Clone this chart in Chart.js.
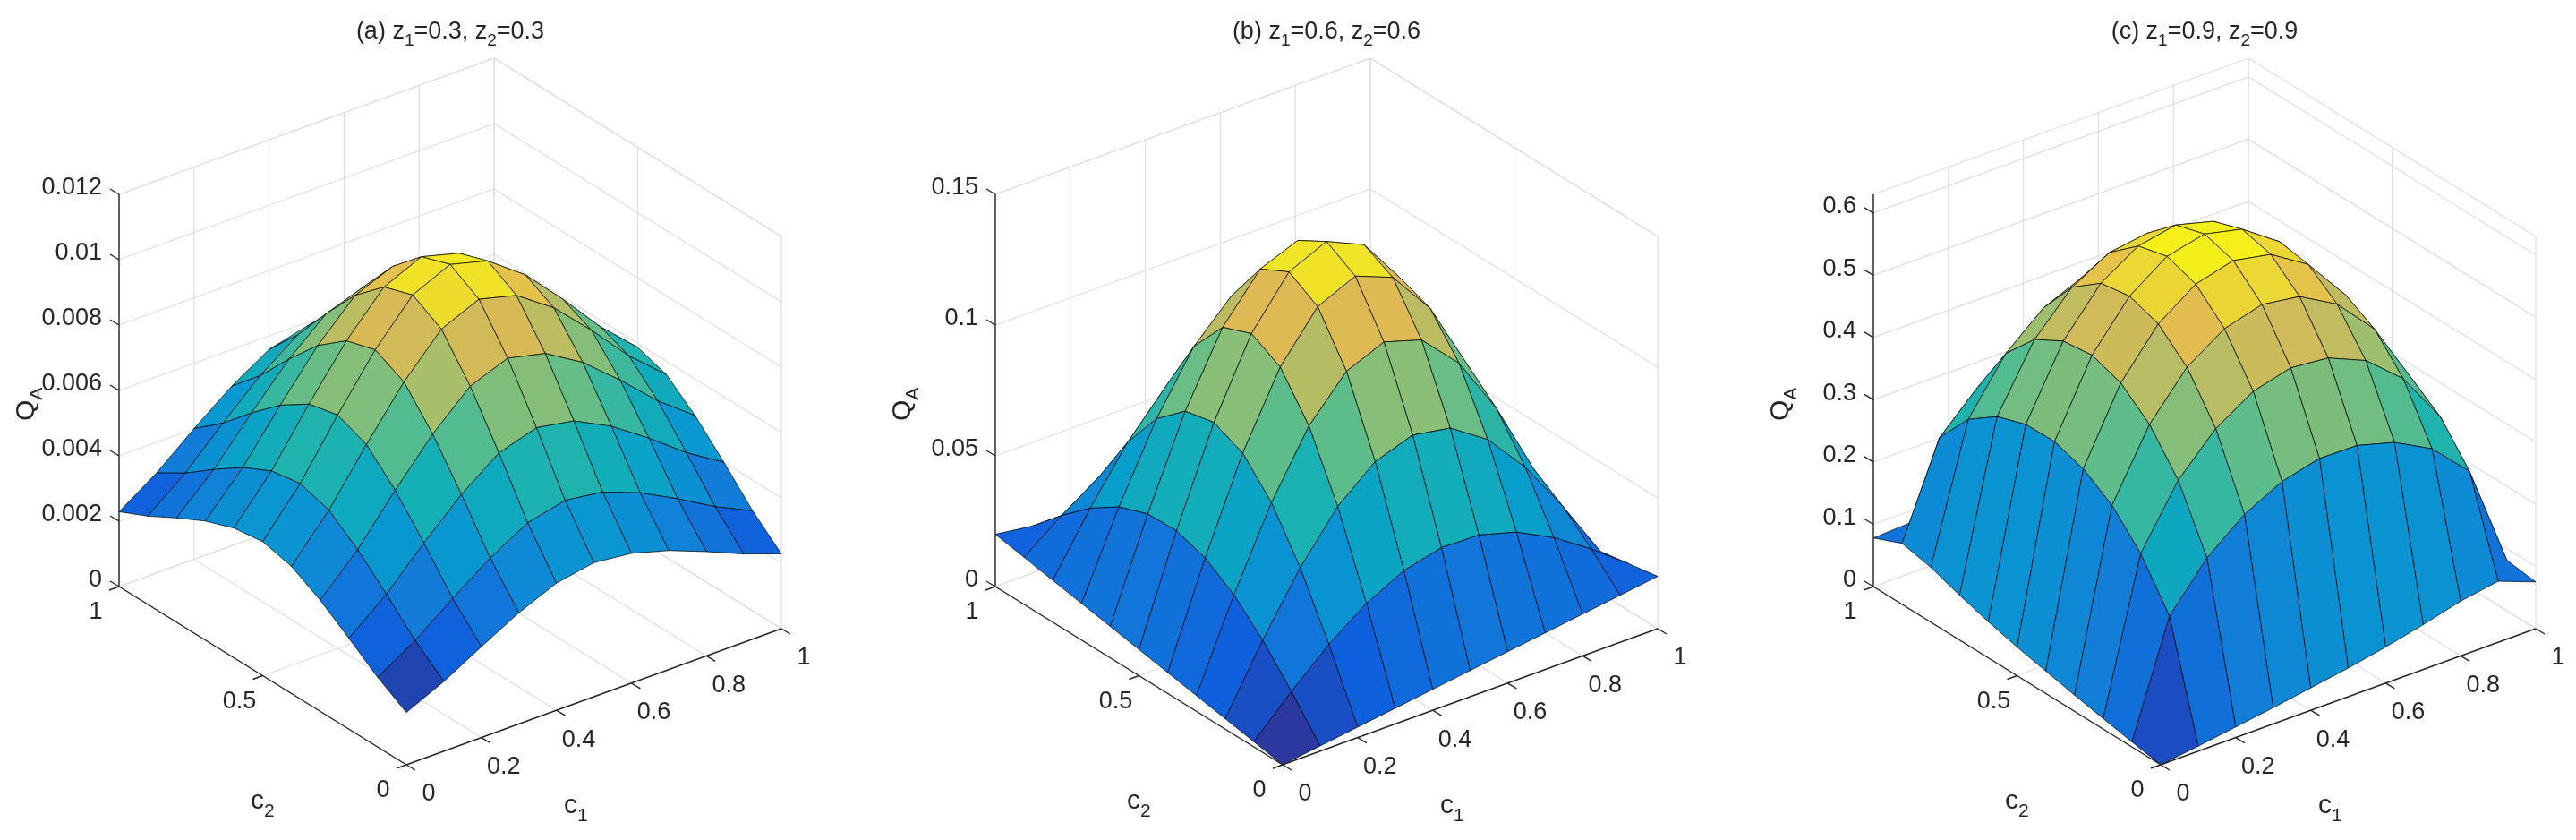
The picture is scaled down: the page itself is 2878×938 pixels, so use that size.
<!DOCTYPE html>
<html><head><meta charset="utf-8">
<script src="https://cdn.jsdelivr.net/npm/chart.js@4/dist/chart.umd.min.js"></script>
<style>html,body{margin:0;padding:0;background:#fff;overflow:hidden}canvas{display:block}</style>
</head><body>
<canvas id="c" width="2878" height="938"></canvas>
<script>
// grid coordinates (c1 columns, c2 rows)
const gridC = [0,0.1,0.2,0.3,0.4,0.5,0.6,0.7,0.8,0.9,1];
const c1Ticks = [0,0.2,0.4,0.6,0.8,1];
const c2Ticks = [0,0.5,1];
const c1TickLabels = ["0","0.2","0.4","0.6","0.8","1"];
const c2TickLabels = ["0","0.5","1"];

// Panel (a) Q_A values, unit 1e-4, rows = c2, cols = c1
const unitA = 1e-4;
const qA = [
 [16.0,21.3,27.8,34.0,38.9,41.0,39.7,36.4,31.9,27.0,22.9],
 [21.3,28.4,37.1,45.3,51.9,54.6,53.0,48.6,42.6,36.0,30.6],
 [27.8,37.1,48.6,59.3,67.8,71.4,69.3,63.5,55.7,47.1,40.0],
 [34.0,45.3,59.3,72.3,82.8,87.2,84.5,77.6,68.0,57.5,48.8],
 [38.9,51.9,67.8,82.8,94.8,99.8,96.8,88.8,77.8,65.8,55.9],
 [41.0,54.6,71.4,87.2,99.8,105,101.9,93.5,81.9,69.3,58.8],
 [39.7,53.0,69.3,84.5,96.8,101.9,98.8,90.6,79.4,67.2,57.0],
 [36.4,48.6,63.5,77.6,88.8,93.5,90.6,83.2,72.9,61.7,52.3],
 [31.9,42.6,55.7,68.0,77.8,81.9,79.4,72.9,63.9,54.1,45.9],
 [27.0,36.0,47.1,57.5,65.8,69.3,67.2,61.7,54.1,45.7,38.8],
 [22.9,30.6,40.0,48.8,55.9,58.8,57.0,52.3,45.9,38.8,32.9]
];
// Panel (b), unit 1e-3
const unitB = 1e-3;
const qB = [
 [0,2,4,6,8,10,12,14,16,18,20],
 [2,16.0,28.8,39.3,46.6,50.2,49.8,45.7,38.4,28.8,18],
 [4,28.8,51.3,69.5,81.5,86.4,83.9,74.3,58.5,38.4,16],
 [6,39.3,69.4,93.5,109.2,115.2,110.8,96.7,74.2,45.7,14],
 [8,46.6,81.5,109.2,127.1,133.6,127.9,110.8,83.9,49.8,12],
 [10,50.2,86.4,115.2,133.6,140,133.6,115.2,86.4,50.2,10],
 [12,49.8,83.9,110.8,127.9,133.6,127.1,109.2,81.5,46.6,8],
 [14,45.7,74.2,96.7,110.8,115.2,109.2,93.5,69.4,39.3,6],
 [16,38.4,58.5,74.3,83.9,86.4,81.5,69.5,51.3,28.8,4],
 [18,28.8,38.4,45.7,49.8,50.2,46.6,39.3,28.8,16.0,2],
 [20,18,16,14,12,10,8,6,4,2,0]
];
// Panel (c), unit 1e-2
const unitC = 1e-2;
const qC = [
 [0,0.8,1.7,2.6,3.6,4.6,5.8,7.2,8.8,9.8,7.5],
 [0.8,18.8,26.0,30.8,33.9,35.4,35.3,33.6,30.4,24.6,8.1],
 [1.7,26.0,35.6,41.7,45.5,47.1,46.5,43.9,38.8,30.4,7.2],
 [2.6,30.9,41.7,48.7,52.7,54.4,53.5,50.1,43.9,33.7,6.3],
 [3.6,33.9,45.5,52.8,57.0,58.6,57.4,53.6,46.5,35.3,5.4],
 [4.6,35.4,47.1,54.4,58.6,60,58.6,54.4,47.1,35.4,4.5],
 [5.8,35.3,46.5,53.6,57.4,58.6,57.0,52.8,45.5,33.9,3.6],
 [7.2,33.7,43.9,50.1,53.5,54.4,52.7,48.7,41.7,30.9,2.7],
 [8.8,30.4,38.8,43.9,46.5,47.1,45.5,41.7,35.6,26.0,1.8],
 [9.8,24.6,30.4,33.6,35.3,35.4,33.9,30.8,26.0,18.8,0.9],
 [7.8,8.1,7.2,6.3,5.4,4.5,3.6,2.7,1.8,0.9,0]
];
const zTicksA = [0,0.002,0.004,0.006,0.008,0.01,0.012];
const zTicksB = [0,0.05,0.1,0.15];
const zTicksC = [0,0.1,0.2,0.3,0.4,0.5,0.6];
const zTickLabelsA = ["0","0.002","0.004","0.006","0.008","0.01","0.012"];
const zTickLabelsB = ["0","0.05","0.1","0.15"];
const zTickLabelsC = ["0","0.1","0.2","0.3","0.4","0.5","0.6"];
const titles = [["(a) z","1","=0.3, z","2","=0.3"],["(b) z","1","=0.6, z","2","=0.6"],["(c) z","1","=0.9, z","2","=0.9"]];

const panels = [
 {q:qA, unit:unitA, zTicks:zTicksA, zLabels:zTickLabelsA, zMax:0.012, dx:0, title:titles[0]},
 {q:qB, unit:unitB, zTicks:zTicksB, zLabels:zTickLabelsB, zMax:0.15, dx:979, title:titles[1]},
 {q:qC, unit:unitC, zTicks:zTicksC, zLabels:zTickLabelsC, zMax:0.63, dx:1960, title:titles[2]}
];

// view geometry
const FX=454, FY=854, V1=[419,-152], V2=[-321,-199], ZH=438;
function proj(p,c1,c2,z){ return {x:FX+p.dx+c1*V1[0]+c2*V2[0], y:FY+c1*V1[1]+c2*V2[1]-ZH*z/p.zMax}; }

const parula=[[53,42,135],[15,92,221],[18,125,216],[7,156,207],[21,177,180],[89,189,140],[165,190,107],[225,185,82],[249,251,14]];
function cmap(t){ t=Math.max(0,Math.min(1,t)); const s=t*8, i=Math.min(7,Math.floor(s)), f=s-i;
  const a=parula[i], b=parula[i+1]; return `rgb(${Math.round(a[0]+(b[0]-a[0])*f)},${Math.round(a[1]+(b[1]-a[1])*f)},${Math.round(a[2]+(b[2]-a[2])*f)})`; }

const datasets = panels.map(p=>{
  const pts=[]; p.q.forEach((row,j)=>row.forEach((v,i)=>{const pr=proj(p,gridC[i],gridC[j],v*p.unit); pts.push({x:pr.x,y:pr.y});}));
  return {data:pts, pointRadius:0, showLine:false};
});

const FONT = "'Liberation Sans Narrow','Liberation Sans',Arial,sans-serif";
const TXT = '#262626';

function drawSub(ctx, parts, x, y, size, align){
  const sub = Math.round(size*0.7);
  let w=0; parts.forEach((s,k)=>{ ctx.font = `${k%2?sub:size}px ${FONT}`; w+=ctx.measureText(s).width; });
  let cx = align==='center'? x-w/2 : x;
  parts.forEach((s,k)=>{ ctx.font=`${k%2?sub:size}px ${FONT}`; ctx.fillText(s,cx,y+(k%2?size*0.3:0)); cx+=ctx.measureText(s).width; });
}

const surfPlugin = {
  id:'surf',
  beforeDatasetsDraw(chart){
    const ctx=chart.ctx, xs=chart.scales.x, ys=chart.scales.y;
    const P=(p,c1,c2,z)=>{const r=proj(p,c1,c2,z); return [xs.getPixelForValue(r.x), ys.getPixelForValue(r.y)];};
    const line=(a,b,col,w)=>{ctx.beginPath();ctx.moveTo(a[0],a[1]);ctx.lineTo(b[0],b[1]);ctx.strokeStyle=col;ctx.lineWidth=w;ctx.stroke();};
    ctx.save();
    panels.forEach((p,pi)=>{
      const top=p.zMax, G='#dedede';
      p.zTicks.forEach(z=>{ line(P(p,0,1,z),P(p,1,1,z),G,1.2); line(P(p,1,1,z),P(p,1,0,z),G,1.2); });
      c1Ticks.forEach(c=>{ line(P(p,c,1,0),P(p,c,1,top),G,1.2); line(P(p,c,0,0),P(p,c,1,0),G,1.2); });
      c2Ticks.forEach(c=>{ line(P(p,1,c,0),P(p,1,c,top),G,1.2); line(P(p,0,c,0),P(p,1,c,0),G,1.2); });
      line(P(p,0,1,top),P(p,1,1,top),G,1.2); line(P(p,1,1,top),P(p,1,0,top),G,1.2);
      const quads=[]; const n=gridC.length;
      const flat=p.q.flat();
      const zHi=Math.max(...flat)*p.unit, zLo=Math.min(...flat)*p.unit;
      for(let j=0;j<n-1;j++)for(let i=0;i<n-1;i++){
        const v=[[i,j],[i+1,j],[i+1,j+1],[i,j+1]];
        const zs=v.map(([a,b])=>p.q[b][a]*p.unit);
        const cc1=(gridC[i]+gridC[i+1])/2, cc2=(gridC[j]+gridC[j+1])/2;
        quads.push({v,zs,depth:cc1*V1[1]+cc2*V2[1]});
      }
      quads.sort((a,b)=>a.depth-b.depth);
      quads.forEach(qd=>{
        ctx.beginPath();
        qd.v.forEach(([a,b],k)=>{const pt=P(p,gridC[a],gridC[b],qd.zs[k]); k?ctx.lineTo(pt[0],pt[1]):ctx.moveTo(pt[0],pt[1]);});
        ctx.closePath();
        const m=qd.zs.reduce((s,z)=>s+z,0)/4;
        ctx.fillStyle=cmap((m-zLo)/(zHi-zLo)); ctx.fill();
        ctx.strokeStyle='rgba(0,0,0,0.7)'; ctx.lineWidth=1; ctx.stroke();
      });
      const K='#262626';
      line(P(p,0,0,0),P(p,1,0,0),K,1.4);
      line(P(p,0,0,0),P(p,0,1,0),K,1.4);
      line(P(p,0,1,0),P(p,0,1,top),K,1.4);
      ctx.fillStyle=TXT; ctx.font=`27px ${FONT}`;
      ctx.textAlign='center'; ctx.textBaseline='middle';
      c1Ticks.forEach((c,k)=>{const a=P(p,c,0,0); line(a,[a[0]+10,a[1]+6],K,1.4); ctx.fillText(c1TickLabels[k],a[0]+25,a[1]+33);});
      c2Ticks.forEach((c,k)=>{const a=P(p,0,c,0); line(a,[a[0]-11,a[1]+4],K,1.4); ctx.fillText(c2TickLabels[k],a[0]-26,a[1]+29);});
      ctx.textAlign='right';
      p.zTicks.forEach((z,k)=>{const a=P(p,0,1,z); line(a,[a[0]-10,a[1]-6],K,1.4); ctx.fillText(p.zLabels[k],a[0]-19,a[1]-7);});
      ctx.textAlign='left'; ctx.textBaseline='alphabetic';
      const o=xs.getPixelForValue(p.dx);
      drawSub(ctx,['c','1'],o+630,908,30,'left');
      drawSub(ctx,['c','2'],o+280,903,30,'left');
      ctx.save(); ctx.translate(o+38,470); ctx.rotate(-Math.PI/2); drawSub(ctx,['Q','A'],0,0,30,'left'); ctx.restore();
      drawSub(ctx,p.title,o+503,43,27,'center');
    });
    ctx.restore();
  }
};

new Chart(document.getElementById('c'),{
  type:'scatter',
  data:{datasets},
  options:{responsive:false,devicePixelRatio:1,animation:false,layout:{padding:0},
    plugins:{legend:{display:false},tooltip:{enabled:false}},
    scales:{x:{type:'linear',min:0,max:2878,display:false},y:{type:'linear',min:0,max:938,reverse:true,display:false}}},
  plugins:[surfPlugin]
});
</script>
</body></html>
